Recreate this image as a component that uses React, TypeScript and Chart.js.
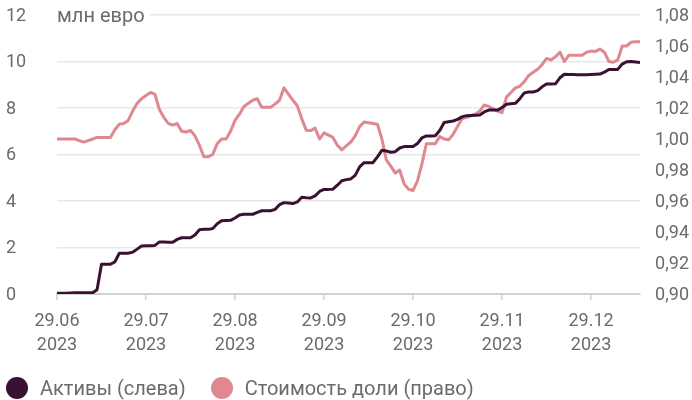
import React, { useEffect, useRef } from "react";
import { Chart, registerables } from "chart.js";

Chart.register(...registerables);

// Assets, mln EUR (left axis), one value per step (20 steps per month)
const ASSETS: number[] = [
  0.03, 0.03, 0.03, 0.04, 0.05, 0.05, 0.05, 0.05, 0.05, 0.18,
  1.28, 1.28, 1.28, 1.38, 1.75, 1.75, 1.75, 1.8, 1.93, 2.06,
  2.07, 2.08, 2.09, 2.24, 2.24, 2.23, 2.23, 2.35, 2.42, 2.42,
  2.42, 2.54, 2.76, 2.78, 2.78, 2.82, 3.02, 3.15, 3.16, 3.17,
  3.27, 3.4, 3.43, 3.43, 3.43, 3.51, 3.58, 3.58, 3.58, 3.64,
  3.84, 3.93, 3.91, 3.89, 3.96, 4.16, 4.14, 4.13, 4.22, 4.41,
  4.5, 4.5, 4.51, 4.68, 4.87, 4.92, 4.95, 5.1, 5.47, 5.65,
  5.65, 5.65, 5.9, 6.18, 6.15, 6.1, 6.12, 6.28, 6.34, 6.34,
  6.34, 6.47, 6.72, 6.8, 6.8, 6.81, 7.03, 7.38, 7.41, 7.44,
  7.51, 7.62, 7.67, 7.68, 7.69, 7.7, 7.83, 7.91, 7.91, 7.91,
  8.02, 8.16, 8.18, 8.2, 8.4, 8.65, 8.69, 8.69, 8.75, 8.91,
  9.03, 9.03, 9.04, 9.3, 9.45, 9.44, 9.44, 9.43, 9.43, 9.43,
  9.44, 9.45, 9.46, 9.54, 9.66, 9.66, 9.66, 9.89, 9.99, 10.0,
  9.98, 9.96,
];

// Unit value (right axis)
const UNIT_VALUE: number[] = [
  1.0, 1.0, 1.0, 1.0, 1.0, 0.999, 0.998, 0.999, 1.0, 1.001,
  1.001, 1.001, 1.001, 1.006, 1.0095, 1.01, 1.012, 1.018, 1.023, 1.026,
  1.028, 1.03, 1.029, 1.019, 1.014, 1.01, 1.009, 1.01, 1.005, 1.0045,
  1.0055, 1.002, 0.996, 0.9886, 0.9886, 0.99, 0.997, 1.0, 1.0, 1.005,
  1.012, 1.016, 1.021, 1.023, 1.025, 1.026, 1.0205, 1.0205, 1.0205, 1.0225,
  1.025, 1.033, 1.029, 1.025, 1.0215, 1.013, 1.0057, 1.0054, 1.007, 1.0,
  1.004, 1.0025, 1.001, 0.996, 0.993, 0.9955, 0.998, 1.002, 1.008, 1.011,
  1.0105, 1.01, 1.0095, 1.0, 0.9865, 0.9825, 0.978, 0.98, 0.971, 0.9676,
  0.9668, 0.973, 0.984, 0.997, 0.997, 0.997, 1.0015, 1.0, 0.9995, 1.003,
  1.008, 1.013, 1.014, 1.015, 1.016, 1.018, 1.022, 1.021, 1.0195, 1.018,
  1.017, 1.027, 1.03, 1.033, 1.034, 1.037, 1.041, 1.043, 1.045, 1.048,
  1.052, 1.051, 1.053, 1.056, 1.05, 1.054, 1.054, 1.054, 1.054, 1.056,
  1.0567, 1.0565, 1.058, 1.056, 1.05, 1.0495, 1.051, 1.06, 1.06, 1.0625,
  1.0628, 1.0628,
];

const MONTH_TICKS: number[] = [0, 20, 40, 60, 80, 100, 120];
const MONTH_LABELS: string[][] = [
  ["29.06", "2023"],
  ["29.07", "2023"],
  ["29.08", "2023"],
  ["29.09", "2023"],
  ["29.10", "2023"],
  ["29.11", "2023"],
  ["29.12", "2023"],
];
const LEFT_TICKS: number[] = [0, 2, 4, 6, 8, 10, 12];
const RIGHT_TICKS: number[] = [0.9, 0.92, 0.94, 0.96, 0.98, 1.0, 1.02, 1.04, 1.06, 1.08];
const SERIES_NAMES: string[] = ["Активы (слева)", "Стоимость доли (право)"];
const UNIT_TITLE = "млн евро";
const COLORS: string[] = ["#3b1131", "#df8890"];

const TEXT_COLOR = "#6b6b6b";
const FONT = "Roboto";

export default function App() {
  const canvasRef = useRef<HTMLCanvasElement | null>(null);

  useEffect(() => {
    document.body.style.margin = "0";
    const canvas = canvasRef.current;
    if (!canvas) return;
    const chart = new Chart(canvas, {
      type: "line",
      data: {
        datasets: [
          {
            label: SERIES_NAMES[0],
            data: ASSETS.map((v, i) => ({ x: i, y: v })),
            yAxisID: "yL",
            borderColor: COLORS[0],
            backgroundColor: COLORS[0],
            borderWidth: 3,
            pointRadius: 0,
            tension: 0,
            borderJoinStyle: "round",
          },
          {
            label: SERIES_NAMES[1],
            data: UNIT_VALUE.map((v, i) => ({ x: i, y: v })),
            yAxisID: "yR",
            borderColor: COLORS[1],
            backgroundColor: COLORS[1],
            borderWidth: 3,
            pointRadius: 0,
            tension: 0,
            borderJoinStyle: "round",
          },
        ],
      },
      options: {
        animation: false,
        responsive: false,
        devicePixelRatio: 1,
        layout: { padding: { left: 6, right: 3, top: 15, bottom: 0 } },
        plugins: {
          legend: { display: false },
          tooltip: { enabled: false },
        },
        scales: {
          x: {
            type: "linear",
            min: 0,
            max: ASSETS.length - 1,
            afterBuildTicks: (s: any) => {
              s.ticks = MONTH_TICKS.map((v) => ({ value: v }));
            },
            afterFit: (s: any) => {
              s.height = 106;
            },
            ticks: {
              autoSkip: false,
              maxRotation: 0,
              color: TEXT_COLOR,
              font: { family: FONT, size: 18, lineHeight: 1.3 },
              padding: 10,
              callback: (v: any) => MONTH_LABELS[MONTH_TICKS.indexOf(Number(v))],
            },
            grid: {
              drawOnChartArea: false,
              color: "#d2d2d2",
              lineWidth: 1.5,
              tickLength: 6,
            },
            border: { color: "#d2d2d2", width: 2 },
          },
          yL: {
            position: "left",
            min: 0,
            max: 12,
            afterBuildTicks: (s: any) => {
              s.ticks = LEFT_TICKS.map((v) => ({ value: v }));
            },
            afterFit: (s: any) => {
              s.width = 51;
            },
            ticks: {
              crossAlign: "far",
              color: TEXT_COLOR,
              font: { family: FONT, size: 18 },
              padding: 0,
              labelOffset: 1,
            },
            grid: { color: "#e8e8e8", lineWidth: 1.5, drawTicks: false },
            border: { display: false },
          },
          yR: {
            position: "right",
            min: 0.9,
            max: 1.08,
            afterBuildTicks: (s: any) => {
              s.ticks = RIGHT_TICKS.map((v) => ({ value: v }));
            },
            afterFit: (s: any) => {
              s.width = 49;
            },
            ticks: {
              crossAlign: "far",
              color: TEXT_COLOR,
              font: { family: FONT, size: 18 },
              padding: 0,
              labelOffset: 1,
              callback: (v: any) => Number(v).toFixed(2).replace(".", ","),
            },
            grid: { drawOnChartArea: false, drawTicks: false },
            border: { display: false },
          },
        },
      } as any,
    });
    return () => chart.destroy();
  }, []);

  return (
    <div style={{ position: "fixed", left: 0, top: 0, width: 692, height: 400, background: "#fff" }}>
      <canvas ref={canvasRef} width={692} height={400} style={{ display: "block" }} />
      <div
        style={{
          position: "absolute",
          left: 57,
          top: 5,
          width: 93,
          height: 21,
          background: "#fff",
          fontFamily: FONT,
          fontSize: 20,
          lineHeight: "20px",
          color: TEXT_COLOR,
          whiteSpace: "nowrap",
        }}
      >
        {UNIT_TITLE}
      </div>
      <div
        style={{
          position: "absolute",
          left: 6,
          top: 377,
          display: "flex",
          alignItems: "center",
          fontFamily: FONT,
          fontSize: 20,
          lineHeight: "22px",
          color: TEXT_COLOR,
          whiteSpace: "nowrap",
        }}
      >
        {SERIES_NAMES.map((name, i) => (
          <div key={name} style={{ display: "flex", alignItems: "center", marginRight: 25 }}>
            <span
              style={{
                display: "inline-block",
                width: 22,
                height: 22,
                borderRadius: "50%",
                background: COLORS[i],
                marginRight: 12,
              }}
            />
            <span>{name}</span>
          </div>
        ))}
      </div>
    </div>
  );
}
